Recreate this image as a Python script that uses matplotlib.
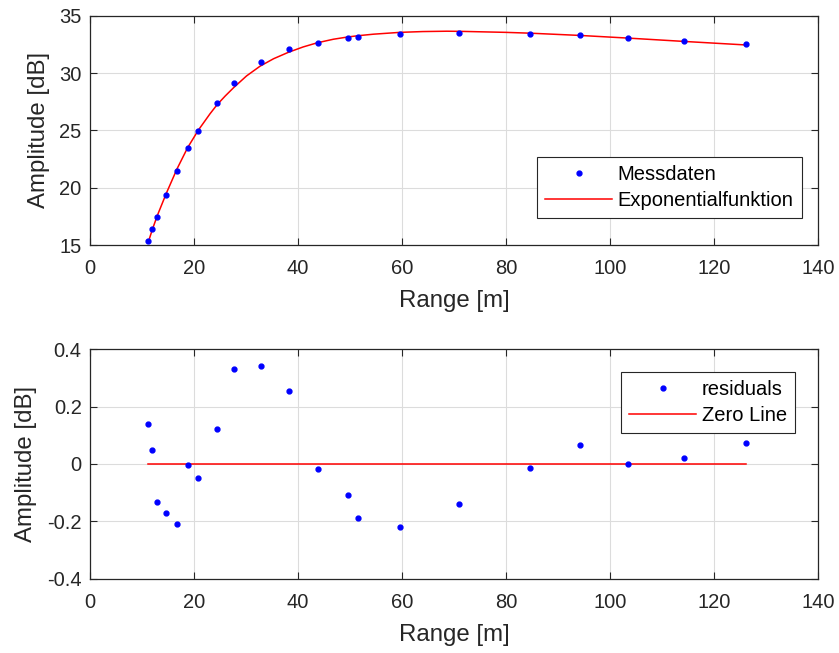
import numpy as np
import matplotlib
matplotlib.use('Agg')
import matplotlib.pyplot as plt

# ---------- data ----------
range_m = [11.15, 12.0, 12.96, 14.7, 16.73, 18.78, 20.83, 24.42, 27.7, 32.88, 38.33,
           43.85, 49.56, 51.6, 59.67, 71.0, 84.55, 94.3, 103.46, 114.2, 126.15]
messdaten = [15.32, 16.42, 17.46, 19.37, 21.43, 23.50, 24.97, 27.35, 29.11, 30.94, 32.07,
             32.65, 33.06, 33.11, 33.37, 33.49, 33.43, 33.32, 33.03, 32.77, 32.50]
residuals = [0.140, 0.049, -0.132, -0.172, -0.209, -0.005, -0.049, 0.122, 0.330, 0.343, 0.253,
             -0.018, -0.107, -0.188, -0.218, -0.140, -0.015, 0.065, 0.0, 0.020, 0.072]
zero_line = [0.0] * len(range_m)

# fitted exponential curve
fit_x = [11.15, 12.0, 12.96, 14.7, 16.73, 18.78, 20.83, 23.08, 24.42, 26.0, 27.6, 30.1,
         32.7, 35.3, 38.2, 41.0, 43.7, 46.8, 49.6, 51.6, 54.5, 59.6, 64.0, 68.6, 71.0,
         79.9, 84.55, 94.3, 103.46, 114.2, 126.15]
fit_y = [15.18, 16.37, 17.59, 19.54, 21.64, 23.50, 25.02, 26.45, 27.23, 28.00, 28.72, 29.75,
         30.60, 31.25, 31.82, 32.28, 32.64, 32.95, 33.15, 33.26, 33.39, 33.55, 33.62, 33.65, 33.64,
         33.55, 33.48, 33.28, 33.05, 32.76, 32.45]

x_ticks = [0, 20, 40, 60, 80, 100, 120, 140]
top_yticks = [15, 20, 25, 30, 35]
bot_yticks = [-0.4, -0.2, 0, 0.2, 0.4]
bot_yticklabels = ['-0.4', '-0.2', '0', '0.2', '0.4']

# ---------- style ----------
plt.rcParams['font.family'] = ['Liberation Sans', 'DejaVu Sans']
txt = '#262626'
fs_tick = 14.5
fs_label = 17.3


def style_axes(ax):
    ax.grid(True, color='#dcdcdc', linewidth=0.8)
    ax.set_axisbelow(True)
    for s in ax.spines.values():
        s.set_color(txt)
        s.set_linewidth(0.9)
    ax.tick_params(direction='in', top=True, right=True, length=5, width=0.8,
                   color=txt, labelsize=fs_tick, labelcolor=txt)
    ax.tick_params(axis='x', pad=10)
    ax.tick_params(axis='y', pad=6)


fig = plt.figure(figsize=(8.39, 6.53), dpi=100)
ax1 = fig.add_axes([0.1073, 0.6248, 0.8677, 0.3511])
ax2 = fig.add_axes([0.1073, 0.1138, 0.8677, 0.3513])

leg_kw = dict(fontsize=fs_tick, frameon=True, fancybox=False, edgecolor=txt, framealpha=1,
              handlelength=3.3, handletextpad=0.3, borderpad=0.4, labelspacing=0.35,
              borderaxespad=0)

# ---------- top: measurement + fit ----------
ax1.plot(range_m, messdaten, 'o', color='blue', markersize=3.5, label='Messdaten', zorder=3)
ax1.plot(fit_x, fit_y, '-', color='red', linewidth=1.1, label='Exponentialfunktion', zorder=2)
ax1.set_xlim(0, 140)
ax1.set_ylim(15, 35)
ax1.set_xticks(x_ticks)
ax1.set_yticks(top_yticks)
ax1.set_xlabel('Range [m]', fontsize=fs_label, color=txt, labelpad=9)
ax1.set_ylabel('Amplitude [dB]', fontsize=fs_label, color=txt, labelpad=7)
style_axes(ax1)
leg1 = ax1.legend(loc='lower right', bbox_to_anchor=(0.9776, 0.1164), **leg_kw)
leg1.get_frame().set_linewidth(0.8)

# ---------- bottom: residuals ----------
ax2.plot(range_m, residuals, 'o', color='blue', markersize=3.5, label='residuals', zorder=3)
ax2.plot(range_m, zero_line, '-', color='red', linewidth=1.1, label='Zero Line', zorder=2)
ax2.set_xlim(0, 140)
ax2.set_ylim(-0.4, 0.4)
ax2.set_xticks(x_ticks)
ax2.set_yticks(bot_yticks)
ax2.set_yticklabels(bot_yticklabels)
ax2.set_xlabel('Range [m]', fontsize=fs_label, color=txt, labelpad=9)
ax2.set_ylabel('Amplitude [dB]', fontsize=fs_label, color=txt, labelpad=7)
style_axes(ax2)
leg2 = ax2.legend(loc='upper right', bbox_to_anchor=(0.9684, 0.8997), **leg_kw)
leg2.get_frame().set_linewidth(0.8)

fig.savefig('out.png', dpi=100, facecolor='white')
